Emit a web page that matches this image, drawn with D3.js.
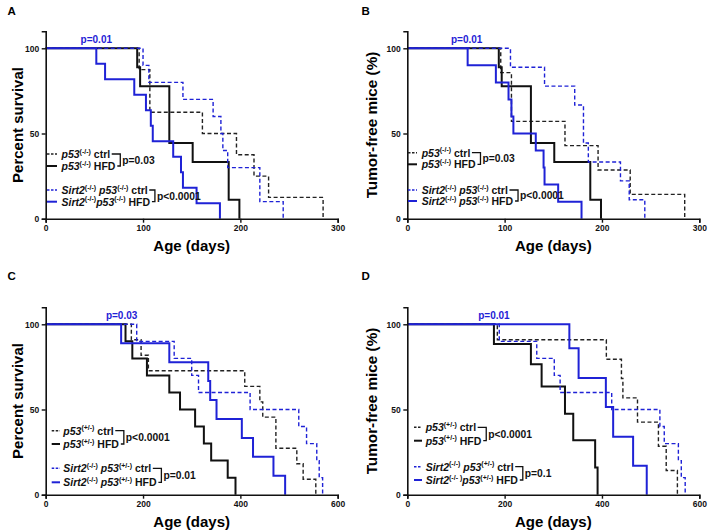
<!DOCTYPE html>
<html><head><meta charset="utf-8">
<script src="https://cdn.jsdelivr.net/npm/d3@7"></script>
<style>
body{margin:0;background:#fff}
svg{display:block}
text{font-family:Arial,'Liberation Sans',sans-serif;font-weight:bold}
</style>
</head><body>
<svg id="chart" width="708" height="531"></svg>
<script>
// ---------------- DATA ----------------
// Panel A (p53-/-, survival)
const aCtrlDays = [96, 107, 161, 196, 214, 229, 285];
const aCtrlPct  = [87.5, 62.5, 50, 37.5, 25, 12.5, 0];
const aHfdDays  = [94, 97, 127, 151, 188, 199];
const aHfdPct   = [88.9, 77.8, 44.4, 33.3, 11.1, 0];
const aSCtrlDays = [100, 106, 141, 172, 180, 182, 187, 220, 244];
const aSCtrlPct  = [90, 80, 70, 60, 50, 40, 30, 10, 0];
const aSHfdDays  = [52, 61, 91, 103, 108, 110, 131, 139, 141, 155, 179];
const aSHfdPct   = [90.9, 81.8, 72.7, 63.6, 54.5, 45.5, 36.4, 27.3, 18.2, 9.1, 0];
// Panel B (p53-/-, tumor-free)
const bCtrlDays = [96, 107, 162, 196, 229, 285];
const bCtrlPct  = [85.7, 57.1, 42.9, 28.6, 14.3, 0];
const bHfdDays  = [94, 97, 127, 151, 188, 199];
const bHfdPct   = [88.9, 77.8, 44.4, 33.3, 11.1, 0];
const bSCtrlDays = [106, 141, 172, 181, 186, 219, 228, 244];
const bSCtrlPct  = [88.9, 77.8, 66.7, 44.4, 33.3, 22.2, 11.1, 0];
const bSHfdDays  = [62, 91, 104, 107, 109, 132, 140, 141, 155, 179];
const bSHfdPct   = [90, 80, 70, 60, 50, 40, 30, 20, 10, 0];
// Panel C (p53+/-, survival)
const cCtrlDays = [176, 196, 211, 409, 440, 446, 473, 516, 529, 555];
const cCtrlPct  = [90.9, 81.8, 72.7, 63.6, 54.5, 45.5, 27.3, 18.2, 9.1, 0];
const cHfdDays  = [164, 178, 208, 254, 276, 307, 325, 340, 374, 390];
const cHfdPct   = [90, 80, 70, 60, 50, 40, 30, 20, 10, 0];
const cSCtrlDays = [187, 264, 300, 314, 420, 520, 536, 557, 562, 569];
const cSCtrlPct  = [90, 80, 70, 60, 50, 40, 30, 20, 10, 0];
const cSHfdDays  = [155, 254, 334, 338, 351, 403, 426, 468, 492];
const cSHfdPct   = [88.9, 77.8, 66.7, 55.6, 44.4, 33.3, 22.2, 11.1, 0];
// Panel D (p53+/-, tumor-free)
const dCtrlDays = [185, 409, 440, 443, 473, 516, 532, 555];
const dCtrlPct  = [90.9, 79.5, 68.2, 56.8, 42.6, 28.4, 14.2, 0];
const dHfdDays  = [178, 254, 276, 324, 341, 386, 391];
const dHfdPct   = [88.5, 76.5, 63.5, 47.5, 32, 16, 0];
const dSCtrlDays = [189, 266, 302, 314, 420, 519, 528, 557, 563, 571];
const dSCtrlPct  = [90, 80, 70, 60, 50, 40, 30, 20, 10, 0];
const dSHfdDays  = [333, 352, 408, 423, 464, 492];
const dSHfdPct   = [86, 68.5, 51.5, 34, 17, 0];

const panelLetters = ["A", "B", "C", "D"];
const yTitles = ["Percent survival", "Tumor-free mice (%)", "Percent survival", "Tumor-free mice (%)"];
const xTitle = "Age (days)";
const xTicksAB = [0, 100, 200, 300];
const xTicksCD = [0, 200, 400, 600];
const yTicks = [0, 50, 100];
const topPLabels = ["p=0.01", "p=0.01", "p=0.03", "p=0.01"];
const topPDays = [52, 61, 156, 178];
const groupP1 = ["p=0.03", "p=0.03", "p<0.0001", "p<0.0001"];
const groupP2 = ["p<0.0001", "p<0.0001", "p=0.01", "p=0.1"];
const genoA = "(-/-)";
const genoC = "(+/-)";

// ---------------- DRAWING ----------------
const BLUE = "#1f22d6";
const svg = d3.select("#chart");

const panels = [
  {days:[aCtrlDays,aHfdDays,aSCtrlDays,aSHfdDays], pct:[aCtrlPct,aHfdPct,aSCtrlPct,aSHfdPct], xmax:300, ticks:xTicksAB,
   L:45.7, R:337.7, B:218.7, ox:0, oy:0, leg:{sx0:47, sx1:57, tx:61.5, rows:[154,166,190,201.7]}, geno:genoA, legSpace:[true,true,true,false]},
  {days:[bCtrlDays,bHfdDays,bSCtrlDays,bSHfdDays], pct:[bCtrlPct,bHfdPct,bSCtrlPct,bSHfdPct], xmax:300, ticks:xTicksAB,
   L:407.3, R:699.3, B:218.7, ox:354, oy:0, leg:{sx0:408, sx1:417, tx:421.7, rows:[152.7,164.3,190,201]}, geno:genoA, legSpace:[true,true,true,true]},
  {days:[cCtrlDays,cHfdDays,cSCtrlDays,cSHfdDays], pct:[cCtrlPct,cHfdPct,cSCtrlPct,cSHfdPct], xmax:600, ticks:xTicksCD,
   L:45.7, R:337.7, B:494.7, ox:0, oy:265, leg:{sx0:51.7, sx1:60, tx:63.3, rows:[430.7,444,468.3,482.3]}, geno:genoC, legSpace:[true,true,true,true]},
  {days:[dCtrlDays,dHfdDays,dSCtrlDays,dSHfdDays], pct:[dCtrlPct,dHfdPct,dSCtrlPct,dSHfdPct], xmax:600, ticks:xTicksCD,
   L:407.3, R:699.3, B:494.7, ox:354, oy:265, leg:{sx0:414, sx1:422, tx:425.7, rows:[427.3,440.7,466.7,480]}, geno:genoC, legSpace:[true,true,true,false], dOdd:true}
];

const styles = [
  {color:"#222", dash:"4,2.5", w:1.4},
  {color:"#111", dash:null, w:2},
  {color:BLUE, dash:"4,2.5", w:1.4},
  {color:BLUE, dash:null, w:2}
];

panels.forEach((p, i) => {
  const g = svg.append("g");
  const x = d3.scaleLinear().domain([0, p.xmax]).range([p.L, p.R]);
  const y = d3.scaleLinear().domain([0, 110]).range([p.B, p.B - 1.704 * 110]);

  // panel letter
  g.append("text").attr("x", p.ox + 7.5).attr("y", p.oy + 14.5).attr("font-size", 11.5).text(panelLetters[i]);

  // curves
  const line = d3.line().x(d => x(d[0])).y(d => y(d[1])).curve(d3.curveStepAfter);
  [0,1,2,3].forEach(k => {
    const pts = [[0,100]].concat(p.days[k].map((t, j) => [t, p.pct[k][j]]));
    const st = styles[k];
    g.append("path").attr("d", line(pts)).attr("fill", "none")
      .attr("stroke", st.color).attr("stroke-width", st.w)
      .attr("stroke-dasharray", st.dash).attr("stroke-linejoin", "miter");
  });

  // axes
  const xa = g.append("g").attr("transform", `translate(0,${p.B})`)
    .call(d3.axisBottom(x).tickValues(p.ticks).tickSize(4).tickPadding(2.5));
  const ya = g.append("g").attr("transform", `translate(${p.L},0)`)
    .call(d3.axisLeft(y).tickValues(yTicks).tickSize(4).tickPadding(2.5));
  [xa, ya].forEach(a => {
    a.select(".domain").attr("stroke", "#111").attr("stroke-width", 1.6);
    a.selectAll(".tick line").attr("stroke", "#111").attr("stroke-width", 1.4);
    a.selectAll(".tick text").attr("font-size", 8.5).attr("font-weight", "bold").attr("fill", "#111")
      .attr("font-family", "Arial,'Liberation Sans',sans-serif");
  });

  // axis titles
  g.append("text").attr("x", (p.L + p.R) / 2).attr("y", p.B + 32).attr("text-anchor", "middle")
    .attr("font-size", 15).text(xTitle);
  g.append("text").attr("transform", `translate(${p.ox + 22.5},${(p.B + y(110)) / 2}) rotate(-90)`)
    .attr("text-anchor", "middle").attr("font-size", i % 2 ? 15.3 : 15).text(yTitles[i]);

  // top p label
  g.append("text").attr("x", x(topPDays[i])).attr("y", y(103)).attr("text-anchor", "middle")
    .attr("font-size", 10).attr("fill", BLUE).text(topPLabels[i]);

  // legend
  const lg = p.leg;
  const ends = [];
  [0,1,2,3].forEach(k => {
    const st = styles[k];
    const ry = lg.rows[k];
    g.append("line").attr("x1", lg.sx0).attr("x2", lg.sx1).attr("y1", ry).attr("y2", ry)
      .attr("stroke", st.color).attr("stroke-width", st.w).attr("stroke-dasharray", st.dash ? "2.5,1.5" : null);
    const t = g.append("text").attr("x", lg.tx).attr("y", ry + 4).attr("font-size", 10.5).attr("fill", "#111");
    const segs = [];
    const label = k % 2 === 0 ? "ctrl" : "HFD";
    if (k >= 2) {
      segs.push({s:"Sirt2", it:true});
      segs.push({s:(p.dOdd && k === 3) ? "(-/- )" : "(-/-)", sup:true});
      if (p.legSpace[k]) segs.push({s:"\u00a0"});
    }
    segs.push({s:"p53", it:true});
    segs.push({s:p.geno, sup:true});
    segs.push({s:"\u00a0" + label});
    let cur = 0;
    segs.forEach(sg => {
      const target = sg.sup ? -4.3 : 0;
      const ts = t.append("tspan").text(sg.s).attr("dy", target - cur);
      cur = target;
      if (sg.it) ts.attr("font-style", "italic");
      if (sg.sup) ts.attr("font-size", 7);
    });
    const bb = t.node().getBBox();
    ends.push(bb.x + bb.width);
  });
  [[0,1,groupP1[i]],[2,3,groupP2[i]]].forEach(([a, b, lbl]) => {
    const bx = Math.max(ends[a], ends[b]) + 4.5;
    const ya_ = lg.rows[a], yb_ = lg.rows[b];
    g.append("path").attr("d", `M${ends[a] + 1.5},${ya_}H${bx}V${yb_}H${ends[b] + 1.5}`)
      .attr("fill", "none").attr("stroke", "#111").attr("stroke-width", 1.3);
    g.append("text").attr("x", bx + 2).attr("y", (ya_ + yb_) / 2 + 3.8).attr("font-size", 10.3).attr("fill", "#111").text(lbl);
  });
});
</script>
</body></html>
